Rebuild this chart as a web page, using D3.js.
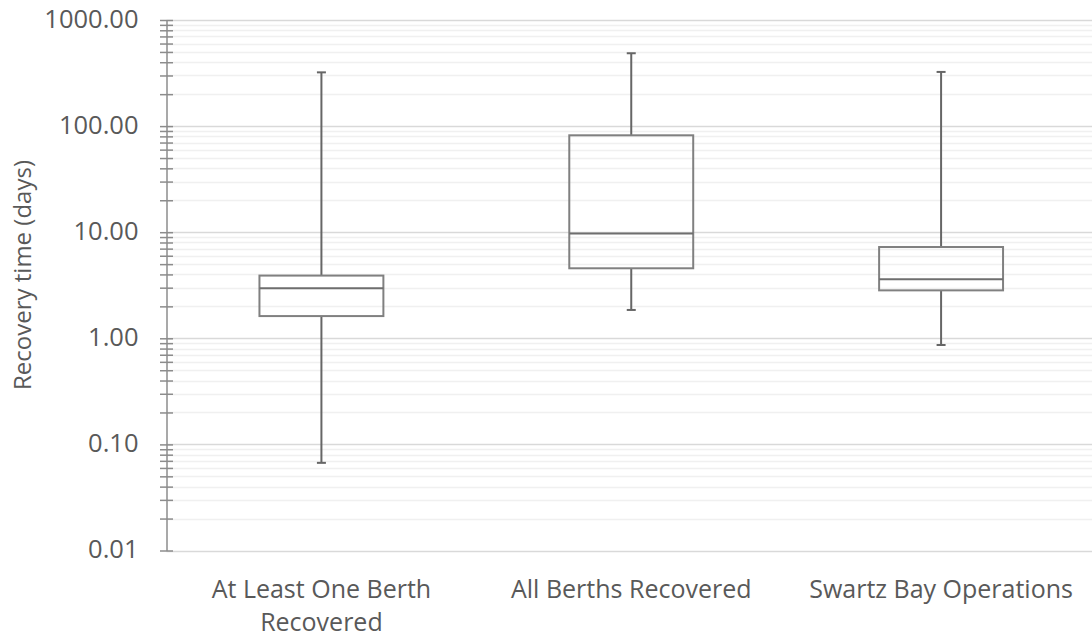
<!DOCTYPE html>
<html>
<head>
<meta charset="utf-8">
<script src="https://cdn.jsdelivr.net/npm/d3@7"></script>
<style>
  body { margin: 0; background: #fff; }
  text { font-family: "Open Sans", sans-serif; fill: #595959; }
</style>
</head>
<body>
<script>
var swidth = 1092,
    sheight = 638,
    margin = {top: 20, right: -4, bottom: 87.5, left: 166.5},
    width = swidth - margin.left - margin.right,
    height = sheight - margin.top - margin.bottom;

// data (days)
var categories = [["At Least One Berth", "Recovered"], ["All Berths Recovered"], ["Swartz Bay Operations"]];
var whiskerLow = [0.067, 1.85, 0.865];
var q1 = [1.62, 4.57, 2.83];
var median = [2.96, 9.7, 3.6];
var q3 = [3.9, 81.9, 7.25];
var whiskerHigh = [321, 486, 324];
var majorTicks = [0.01, 0.1, 1, 10, 100, 1000];

var boxes = categories.map(function(c, i) {
  return {name: c.join(" "), lo: whiskerLow[i], q1: q1[i], med: median[i], q3: q3[i], hi: whiskerHigh[i]};
});

var svg = d3.select("body").append("svg")
    .attr("width", swidth)
    .attr("height", sheight)
  .append("g")
    .attr("transform", "translate(" + margin.left + "," + margin.top + ")");

var y = d3.scaleLog()
    .domain([0.01, 1000])
    .range([height, 0]);

var x = d3.scaleBand()
    .domain(boxes.map(function(d) { return d.name; }))
    .range([0, width]);

// minor ticks at 2..9 of every decade
var minorTicks = [];
majorTicks.slice(0, -1).forEach(function(m) {
  for (var k = 2; k <= 9; k++) minorTicks.push(m * k);
});

svg.append("g").selectAll("line")
  .data(minorTicks)
  .enter().append("line")
    .attr("x1", 0).attr("x2", swidth)
    .attr("y1", function(d) { return Math.round(y(d)) + 0.5; })
    .attr("y2", function(d) { return Math.round(y(d)) + 0.5; })
    .attr("stroke", "#f0f0f0")
    .attr("stroke-width", 1.5);

svg.append("g").selectAll("line")
  .data(majorTicks)
  .enter().append("line")
    .attr("x1", 0).attr("x2", swidth)
    .attr("y1", function(d) { return Math.round(y(d)) + 0.5; })
    .attr("y2", function(d) { return Math.round(y(d)) + 0.5; })
    .attr("stroke", "#d9d9d9")
    .attr("stroke-width", 1.5);

// y axis with all ticks crossing the line
var yAxis = svg.append("g")
    .call(d3.axisLeft(y)
      .tickValues(majorTicks.concat(minorTicks))
      .tickSize(0)
      .tickFormat(""));
yAxis.select(".domain").attr("stroke", "#8c8c8c").attr("stroke-width", 1.5);
yAxis.selectAll(".tick line")
    .attr("x1", -6.5).attr("x2", 6.5)
    .attr("stroke", "#8c8c8c")
    .attr("stroke-width", 1.5);

svg.append("g").selectAll("text")
  .data(majorTicks)
  .enter().append("text")
    .attr("x", -28)
    .attr("y", function(d) { return y(d); })
    .attr("dy", "0.3em")
    .attr("text-anchor", "end")
    .attr("font-size", 25.5)
    .text(d3.format(".2f"));

svg.append("text")
    .attr("transform", "translate(" + (-144) + "," + 255 + ") rotate(-90)")
    .attr("dy", "0.36em")
    .attr("text-anchor", "middle")
    .attr("font-size", 24)
    .text("Recovery time (days)");

// x labels
var xl = svg.append("g").selectAll("text")
  .data(categories)
  .enter().append("text")
    .attr("x", function(d) { return x(d.join(" ")) + x.bandwidth() / 2; })
    .attr("y", height + 47)
    .attr("text-anchor", "middle")
    .attr("font-size", 25);
xl.selectAll("tspan")
  .data(function(d) { return d; })
  .enter().append("tspan")
    .attr("x", function() { return d3.select(this.parentNode).attr("x"); })
    .attr("dy", function(d, i) { return i ? 33 : 0; })
    .text(function(d) { return d; });

// boxes
var bw = x.bandwidth() * 0.4;
var g = svg.append("g").selectAll("g")
  .data(boxes)
  .enter().append("g")
    .attr("transform", function(d) { return "translate(" + (x(d.name) + x.bandwidth() / 2) + ",0)"; });

g.append("line")
    .attr("x1", 0).attr("x2", 0)
    .attr("y1", function(d) { return y(d.hi); })
    .attr("y2", function(d) { return y(d.q3); })
    .attr("stroke", "#666").attr("stroke-width", 2);
g.append("line")
    .attr("x1", 0).attr("x2", 0)
    .attr("y1", function(d) { return y(d.q1); })
    .attr("y2", function(d) { return y(d.lo); })
    .attr("stroke", "#666").attr("stroke-width", 2);
g.selectAll(".cap")
  .data(function(d) { return [d.hi, d.lo]; })
  .enter().append("line")
    .attr("class", "cap")
    .attr("x1", -4.5).attr("x2", 4.5)
    .attr("y1", function(v) { return y(v); })
    .attr("y2", function(v) { return y(v); })
    .attr("stroke", "#666").attr("stroke-width", 2);
g.append("rect")
    .attr("x", -bw / 2)
    .attr("width", bw)
    .attr("y", function(d) { return y(d.q3); })
    .attr("height", function(d) { return y(d.q1) - y(d.q3); })
    .attr("fill", "none")
    .attr("stroke", "#808080").attr("stroke-width", 2);
g.append("line")
    .attr("x1", -bw / 2).attr("x2", bw / 2)
    .attr("y1", function(d) { return y(d.med); })
    .attr("y2", function(d) { return y(d.med); })
    .attr("stroke", "#6e6e6e").attr("stroke-width", 2);
</script>
</body>
</html>
